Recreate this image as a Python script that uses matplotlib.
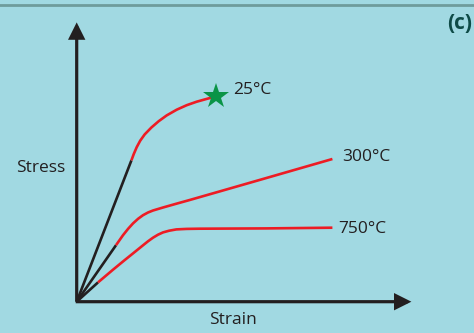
import matplotlib
matplotlib.use("Agg")
import matplotlib.pyplot as plt
from matplotlib.lines import Line2D

# ---- data (strain, stress) in arbitrary units ----
labels = ["25°C", "300°C", "750°C"]

elastic_25_x = [0, 54.7]
elastic_25_y = [0, 141.3]
plastic_25_x = [54.7, 57, 60, 63.5, 68, 74.7, 82, 90, 100, 110, 120, 130, 139]
plastic_25_y = [141.3, 147.5, 154.5, 161, 167.3, 174.2, 180.5, 186.3, 192, 196.5, 200, 202.8, 205.3]
fracture_25 = (139, 205.3)

elastic_300_x = [0, 39.3]
elastic_300_y = [0, 56.5]
plastic_300_x = [39.3, 46.3, 51.5, 56.3, 61.5, 66.3, 71.3, 76.3, 86.3, 99.7, 113, 141.3, 189.7, 255.7]
plastic_300_y = [56.5, 66.5, 73, 78.3, 83, 86.5, 89.2, 91.2, 94.2, 98.0, 101.7, 109.8, 123.7, 142.7]

elastic_750_x = [0, 21.3]
elastic_750_y = [0, 19.3]
plastic_750_x = [21.3, 36.3, 47, 56.3, 61.5, 66.3, 71.3, 76.3, 81.3, 86.3, 92.5, 99.7, 110, 123, 189.7, 255.7]
plastic_750_y = [19.3, 32, 40.8, 48.3, 52.5, 56.4, 60.4, 64, 67, 69.3, 71, 72.3, 72.8, 73, 73.3, 74]

x_max, y_max = 334.7, 279.3

BG = "#a1d9e2"
AXC = "#231f20"
RED = "#ed1c24"

fig = plt.figure(figsize=(4.74, 3.33), dpi=100, facecolor=BG)
ax = fig.add_axes([0, 0, 1, 1])
ax.set_facecolor(BG)
ax.set_xlim(-76.7, 474 - 76.7)
ax.set_ylim(-(333 - 301.7), 301.7)
ax.axis("off")

# top border line
fig.add_artist(Line2D([0, 1], [1 - 5.3 / 333, 1 - 5.3 / 333], transform=fig.transFigure,
                      color="#6f9c9c", lw=2.0))

# axes arrows
arrow_kw = dict(arrowstyle="-|>,head_length=0.4,head_width=0.2", lw=2.3, color=AXC,
                mutation_scale=22, shrinkA=0, shrinkB=0, joinstyle="miter", capstyle="butt")
ax.annotate("", xy=(0, y_max), xytext=(0, 0), arrowprops=arrow_kw)
ax.annotate("", xy=(x_max, 0), xytext=(-1, 0), arrowprops=arrow_kw)

lw = 1.9
ax.plot(elastic_25_x, elastic_25_y, color=AXC, lw=lw, solid_capstyle="butt")
ax.plot(elastic_300_x, elastic_300_y, color=AXC, lw=lw, solid_capstyle="butt")
ax.plot(elastic_750_x, elastic_750_y, color=AXC, lw=lw, solid_capstyle="butt")
ax.plot(plastic_25_x, plastic_25_y, color=RED, lw=lw, solid_capstyle="butt", solid_joinstyle="round")
ax.plot(plastic_300_x, plastic_300_y, color=RED, lw=lw, solid_capstyle="butt", solid_joinstyle="round")
ax.plot(plastic_750_x, plastic_750_y, color=RED, lw=lw, solid_capstyle="butt", solid_joinstyle="round")
ax.plot([fracture_25[0]], [fracture_25[1]], marker="*", markersize=19, color="#0a9447",
        markeredgewidth=0, zorder=5)

font = ["Open Sans", "DejaVu Sans"]
tkw = dict(color=AXC, fontsize=12.5, family=font, va="center")
ax.text(156, 211.3, labels[0], ha="left", **tkw)
ax.text(265.7, 144.3, labels[1], ha="left", **tkw)
ax.text(261.3, 72.7, labels[2], ha="left", **tkw)
ax.text(-60.3, 133.7, "Stress", ha="left", **tkw)
ax.text(156, -18.7, "Strain", ha="center", **tkw)

fig.text(472.5 / 474, 1 - 23.3 / 333, "(c)", ha="right", va="center", fontsize=15,
         fontweight="bold", color="#0e4b47", family=font)

fig.savefig("out.png", dpi=100, facecolor=BG)
